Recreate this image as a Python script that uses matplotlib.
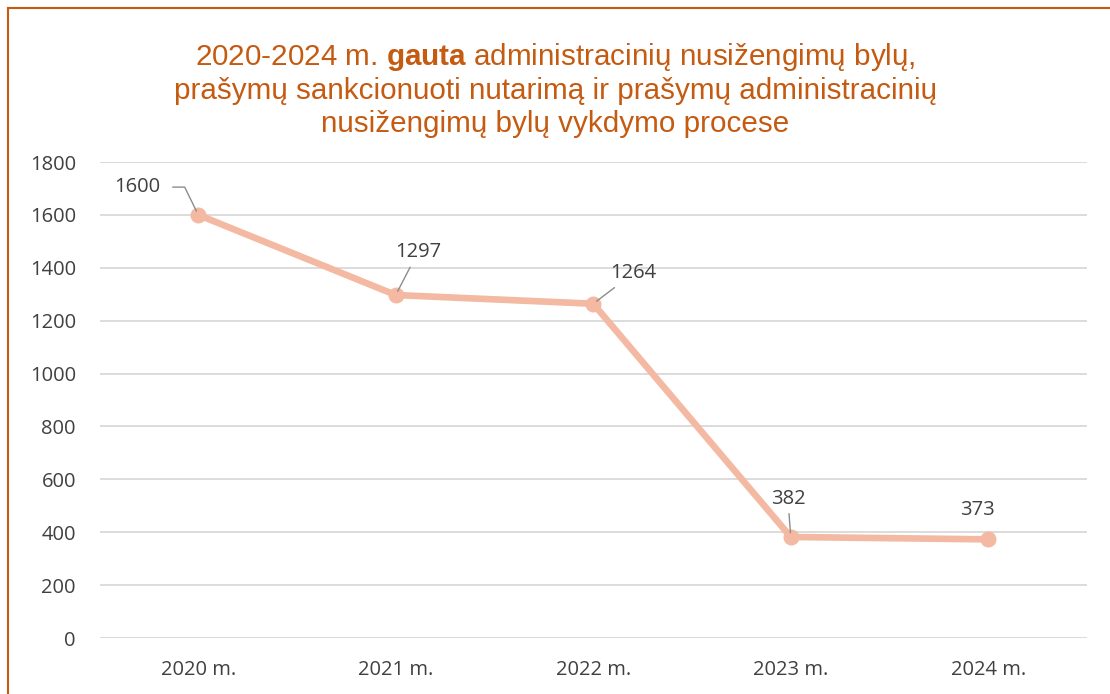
import matplotlib
matplotlib.use("Agg")
import matplotlib.pyplot as plt
from matplotlib.lines import Line2D

categories = ["2020 m.", "2021 m.", "2022 m.", "2023 m.", "2024 m."]
values = [1600, 1297, 1264, 382, 373]
yticks = [0, 200, 400, 600, 800, 1000, 1200, 1400, 1600, 1800]

W, H = 1110, 694
fig = plt.figure(figsize=(W / 100, H / 100), dpi=100)
fig.patch.set_facecolor("white")

border = "#C55A11"
fig.add_artist(Line2D([8 / W, 1.0], [1 - 8 / H, 1 - 8 / H], color=border, lw=1.5, transform=fig.transFigure))
fig.add_artist(Line2D([8 / W, 8 / W], [0, 1 - 8 / H], color=border, lw=1.5, transform=fig.transFigure))

ax = fig.add_axes([99.5 / W, 56 / H, (1087 - 99.5) / W, (638 - 162) / H])
x = list(range(len(categories)))
ax.plot(x, values, color="#F4B9A2", lw=4.8, marker="o", markersize=10.5,
        solid_capstyle="round", zorder=3)
ax.set_xlim(-0.5, len(categories) - 0.5)
ax.set_ylim(0, 1800)
ax.set_yticks(yticks)
ax.set_xticks(x)
ax.set_xticklabels(categories)
ax.grid(axis="y", color="#D9D9D9", lw=1.3)
ax.set_axisbelow(True)
for s in ax.spines.values():
    s.set_visible(False)
ax.tick_params(length=0, labelsize=14.5, colors="#404040")
ax.tick_params(axis="x", pad=16)
ax.tick_params(axis="y", pad=17)
for lab in ax.get_xticklabels() + ax.get_yticklabels():
    lab.set_family("Open Sans")

lab_kw = dict(textcoords="offset points", ha="center", va="center", fontsize=14.5,
              color="#404040", family="Open Sans", zorder=4)
lead = dict(arrowstyle="-", color="#8C8C8C", lw=1.0)

ax.annotate(str(values[0]), (0, values[0]), xytext=(-44, 20),
            arrowprops=dict(lead, connectionstyle="angle,angleA=0,angleB=116,rad=0",
                            relpos=(1, 0.5), shrinkA=7, shrinkB=3), **lab_kw)
ax.annotate(str(values[1]), (1, values[1]), xytext=(16, 31),
            arrowprops=dict(lead, shrinkA=2, shrinkB=3), **lab_kw)
ax.annotate(str(values[2]), (2, values[2]), xytext=(29, 22),
            arrowprops=dict(lead, shrinkA=2, shrinkB=3), **lab_kw)
ax.annotate(str(values[3]), (3, values[3]), xytext=(-2, 27),
            arrowprops=dict(lead, shrinkA=1, shrinkB=3), **lab_kw)
ax.annotate(str(values[4]), (4, values[4]), xytext=(-8, 21), **lab_kw)

plt.rcParams["mathtext.fontset"] = "custom"
plt.rcParams["mathtext.rm"] = "Liberation Sans"
plt.rcParams["mathtext.bf"] = "Liberation Sans:bold"

title_color = "#C55A11"
tkw = dict(ha="center", va="baseline", fontsize=21.3, color=title_color, family="Liberation Sans")
fig.text(0.5, 1 - 65 / H, r"2020-2024 m. $\mathbf{gauta}$ administracinių nusižengimų bylų,", **tkw)
fig.text(0.5, 1 - 99 / H, "prašymų sankcionuoti nutarimą ir prašymų administracinių", **tkw)
fig.text(0.5, 1 - 132 / H, "nusižengimų bylų vykdymo procese", **tkw)

fig.savefig("out.png", dpi=100)
